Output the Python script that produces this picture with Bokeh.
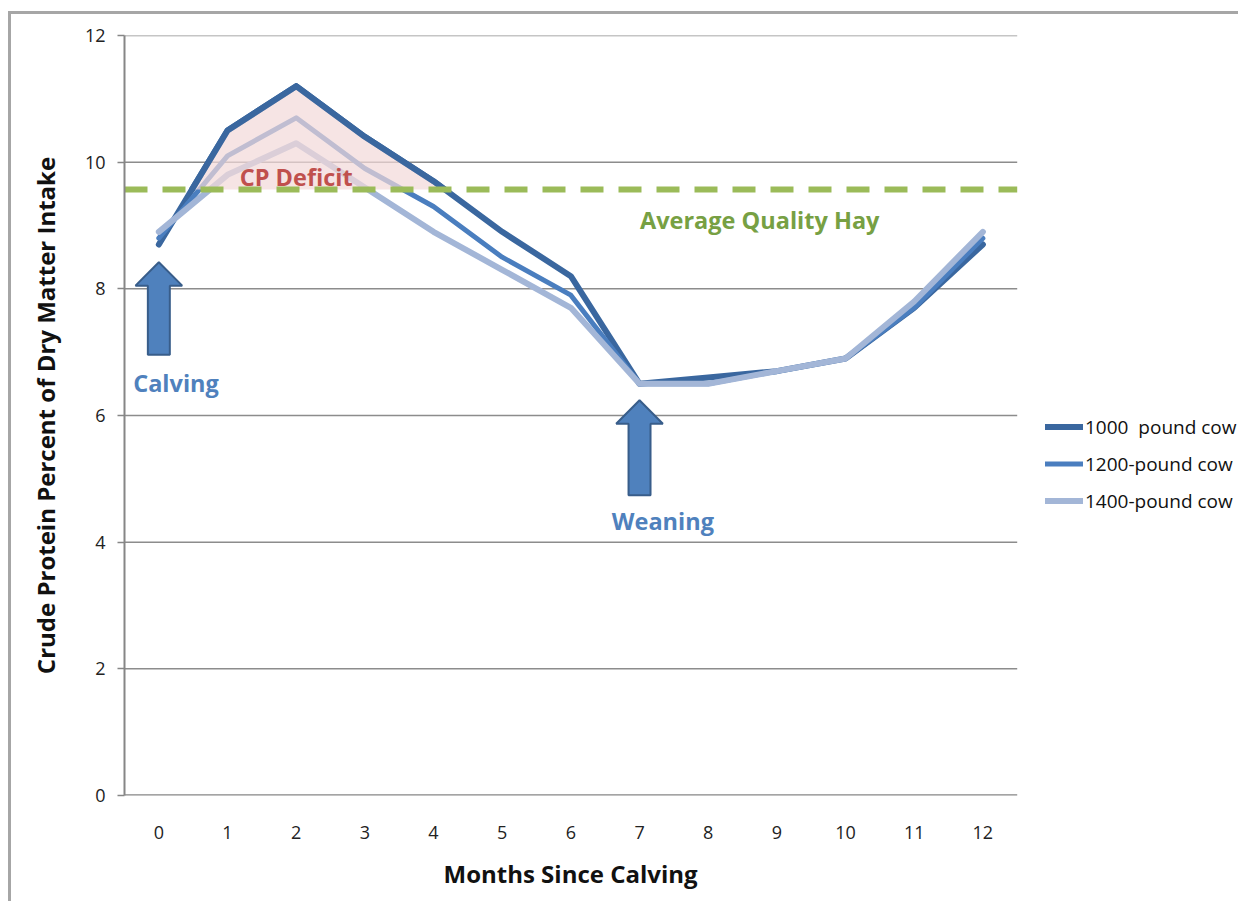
from bokeh.plotting import figure
from bokeh.models import (Range1d, FixedTicker, Label, Legend, LegendItem, Title,
                          ColumnDataSource)
from bokeh.embed import file_html
from bokeh.resources import INLINE

# ---------------- data ----------------
months = list(range(13))
x_tick_labels = [str(m) for m in months]
cow_1000 = [8.7, 10.5, 11.2, 10.4, 9.7, 8.9, 8.2, 6.5, 6.6, 6.7, 6.9, 7.7, 8.7]
cow_1200 = [8.8, 10.1, 10.7, 9.9, 9.3, 8.5, 7.9, 6.5, 6.5, 6.7, 6.9, 7.7, 8.8]
cow_1400 = [8.9, 9.8, 10.3, 9.6, 8.9, 8.3, 7.7, 6.5, 6.5, 6.7, 6.9, 7.8, 8.9]
series_names = ["1000  pound cow", "1200-pound cow", "1400-pound cow"]
hay_level = 9.57
y_ticks = [0, 2, 4, 6, 8, 10, 12]

# annotation anchors (data units): (month, arrow tip, arrow bottom)
calving_arrow = (0, 8.42, 6.96)
weaning_arrow = (7, 6.24, 4.74)

FONT = "Open Sans"
GRID = "#8c8c8c"
AXIS = "#868686"

# plot area spans months -0.5..12.5; the frame is widened to the right so that
# the legend (drawn inside the frame) is not clipped
X0, X1 = -0.5, 12.5
FRAME_LEFT, FRAME_RIGHT = 113, 3
W, H = 1230, 890
px_per_month = 68.67
x_end = X0 + (W - FRAME_LEFT - FRAME_RIGHT) / px_per_month

p = figure(width=W, height=H, output_backend="svg", toolbar_location=None,
           x_range=Range1d(X0, x_end), y_range=Range1d(0, 12),
           min_border_left=FRAME_LEFT, min_border_right=FRAME_RIGHT,
           min_border_top=21, min_border_bottom=109)
p.styles = {"margin-left": "8px", "margin-top": "11px",
            "border-left": "3px solid #a6a6a6", "border-top": "3px solid #a6a6a6"}
p.outline_line_color = None
p.background_fill_color = "white"
p.border_fill_color = "white"

# axes
p.xaxis.ticker = FixedTicker(ticks=months)
p.xaxis.major_label_overrides = {m: lab for m, lab in zip(months, x_tick_labels)}
p.yaxis.ticker = FixedTicker(ticks=y_ticks)
for ax in (p.xaxis, p.yaxis):
    ax.minor_tick_line_color = None
    ax.major_label_text_font = FONT
    ax.major_label_text_font_size = "18px"
    ax.major_label_text_color = "#222222"
    ax.axis_label_text_font = FONT
    ax.axis_label_text_font_style = "bold"
    ax.axis_label_text_font_size = "24px"
    ax.axis_label_text_color = "#111111"
p.xaxis.axis_line_color = None
p.xaxis.major_tick_line_color = None
p.xaxis.major_label_standoff = 24
p.yaxis.axis_line_color = AXIS
p.yaxis.axis_line_width = 2
p.yaxis.major_tick_line_color = AXIS
p.yaxis.major_tick_line_width = 1.5
p.yaxis.major_tick_out = 7
p.yaxis.major_tick_in = 0
p.yaxis.major_label_standoff = 12
p.yaxis.axis_label = "Crude Protein Percent of Dry Matter Intake"
p.yaxis.axis_label_standoff = 20

# x axis title, centred under the plot area (not the widened frame)
p.add_layout(Title(text="Months Since Calving", align="left", offset=319,
                   text_font=FONT, text_font_style="bold", text_font_size="24px",
                   text_color="#111111", standoff=26), "below")

p.xgrid.grid_line_color = None
p.ygrid.grid_line_color = None
# horizontal gridlines and x axis line across the plot area only
grid_y = [t for t in y_ticks if t > 0]
p.segment(x0=[X0] * len(grid_y), x1=[X1] * len(grid_y), y0=grid_y, y1=grid_y,
          line_color=GRID, line_width=1.5)
p.segment(x0=[X0], x1=[X1], y0=[0], y1=[0], line_color=AXIS, line_width=2.5)

# series lines
src = ColumnDataSource(dict(x=months, a=cow_1000, b=cow_1200, c=cow_1400))
r1 = p.line("x", "a", source=src, line_color="#3a679f", line_width=6,
            line_join="round", line_cap="round")
r2 = p.line("x", "b", source=src, line_color="#4a7ebf", line_width=5,
            line_join="round", line_cap="round")
r3 = p.line("x", "c", source=src, line_color="#a3b6d7", line_width=6,
            line_join="round", line_cap="round")

# CP deficit area: between hay level and 1000-lb curve where curve is above
dx, dy = [], []
for i in range(len(months) - 1):
    x0, x1, y0, y1 = months[i], months[i + 1], cow_1000[i], cow_1000[i + 1]
    if y0 >= hay_level:
        dx.append(x0); dy.append(y0)
    if (y0 - hay_level) * (y1 - hay_level) < 0:
        t = (hay_level - y0) / (y1 - y0)
        dx.append(x0 + t * (x1 - x0)); dy.append(hay_level)
p.varea(x=dx, y1=[hay_level] * len(dx), y2=dy, fill_color="#f2d9d8", fill_alpha=0.7)
# 1000-lb curve stays on top along the deficit edge
p.line(dx, dy, line_color="#3a679f", line_width=6, line_join="round", line_cap="round")

# hay line (spans the plot area)
p.segment(x0=[X0], x1=[X1], y0=[hay_level], y1=[hay_level], line_color="#9bbb59",
          line_width=6, line_dash="23 15")

# arrows
def arrow_shape(xc, tip, base, head_h=0.37, head_w=0.34, shaft_w=0.16):
    hb = tip - head_h
    xs = [xc, xc + head_w, xc + shaft_w, xc + shaft_w, xc - shaft_w, xc - shaft_w, xc - head_w]
    ys = [tip, hb, hb, base, base, hb, hb]
    return xs, ys

for a in (calving_arrow, weaning_arrow):
    xs, ys = arrow_shape(*a)
    p.patch(xs, ys, fill_color="#4f81bd", line_color="#385d8a", line_width=2)

# labels
def lab(x, y, text, color, size="23.5px"):
    p.add_layout(Label(x=x, y=y, text=text, text_color=color, text_font=FONT,
                       text_font_style="bold", text_font_size=size,
                       text_align="center", text_baseline="middle"))

lab(2, 9.76, "CP Deficit", "#c0504d")
lab(8.75, 9.08, "Average Quality Hay", "#77a043")
lab(0.25, 6.51, "Calving", "#4f81bd")
lab(7.34, 4.33, "Weaning", "#4f81bd")

# legend
legend = Legend(items=[LegendItem(label=n, renderers=[r]) for n, r in zip(series_names, (r1, r2, r3))],
                location=(921, 276), orientation="vertical",
                glyph_width=38, glyph_height=37, label_height=37, spacing=0,
                label_standoff=2, padding=0, margin=0,
                border_line_color=None, background_fill_alpha=0,
                label_text_font=FONT, label_text_font_size="19px",
                label_text_color="#111111")
p.add_layout(legend, "center")

open("out.html", "w").write(file_html(p, INLINE))
